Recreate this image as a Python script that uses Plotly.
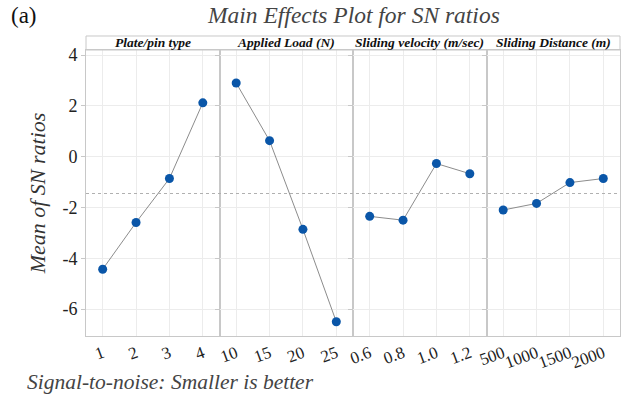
import plotly.graph_objects as go
from plotly.subplots import make_subplots

factors = ["Plate/pin type", "Applied Load (N)", "Sliding velocity (m/sec)", "Sliding Distance (m)"]
levels = [["1", "2", "3", "4"], ["10", "15", "20", "25"], ["0.6", "0.8", "1.0", "1.2"], ["500", "1000", "1500", "2000"]]
sn_means = [
    [-4.43, -2.59, -0.86, 2.12],
    [2.90, 0.63, -2.86, -6.50],
    [-2.35, -2.50, -0.27, -0.67],
    [-2.10, -1.84, -1.02, -0.86],
]
overall_mean = -1.45
y_ticks = [-6, -4, -2, 0, 2, 4]

SERIF = "Times New Roman, Liberation Serif, serif"
fig = make_subplots(rows=1, cols=4, shared_yaxes=True, horizontal_spacing=0)

for i in range(4):
    fig.add_trace(go.Scatter(
        x=list(range(4)), y=sn_means[i], mode="lines+markers",
        line=dict(color="#8c8c8c", width=1),
        marker=dict(color="#0a56a8", size=9),
        showlegend=False), row=1, col=i + 1)
    fig.update_xaxes(
        range=[-0.5, 3.5], tickvals=list(range(4)), ticktext=levels[i],
        tickangle=-20, tickfont=dict(family=SERIF, size=17, color="#222"),
        showgrid=True, gridcolor="#ececec", gridwidth=1,
        showline=True, linecolor="#c8c8c8", linewidth=1, mirror=True,
        ticks="", zeroline=False, row=1, col=i + 1)
    fig.add_annotation(
        text="<b><i>" + factors[i] + "</i></b>",
        xref="x%s domain" % ("" if i == 0 else i + 1), yref="paper",
        x=0.5, y=1.0, yanchor="bottom", yshift=-2,
        showarrow=False, font=dict(family=SERIF, size=13.5, color="#111"))

fig.update_yaxes(
    range=[-7.06, 4.2], tickvals=y_ticks, ticktext=[str(v) for v in y_ticks],
    tickfont=dict(family=SERIF, size=18, color="#222"),
    showgrid=True, gridcolor="#ececec", gridwidth=1,
    showline=True, linecolor="#c8c8c8", linewidth=1, mirror=True,
    zeroline=False, ticks="outside", ticklen=4, tickcolor="#c8c8c8")
fig.update_yaxes(
    title=dict(text="<i>Mean of SN ratios</i>", font=dict(family=SERIF, size=22, color="#333"), standoff=10),
    row=1, col=1)

fig.add_shape(type="line", xref="paper", yref="y", x0=0, x1=1, y0=overall_mean, y1=overall_mean,
              line=dict(color="#b0b0b0", width=1, dash="dot"))
fig.add_shape(type="rect", xref="paper", yref="paper", x0=0, x1=1, y0=1.0, y1=1.049,
              line=dict(color="#c8c8c8", width=1))

fig.add_annotation(text="<i>Main Effects Plot for SN ratios</i>", xref="paper", yref="paper",
                   x=0.5, y=1.0, yshift=20, yanchor="bottom", showarrow=False,
                   font=dict(family=SERIF, size=23.5, color="#444"))
fig.add_annotation(text="(a)", xref="paper", yref="paper", x=-0.145, y=1.0, yshift=20,
                   xanchor="left", yanchor="bottom", showarrow=False,
                   font=dict(family=SERIF, size=23, color="#111"))
fig.add_annotation(text="<i>Signal-to-noise: Smaller is better</i>", xref="paper", yref="paper",
                   x=-0.115, y=0, yshift=-32, xanchor="left", yanchor="top", showarrow=False,
                   font=dict(family=SERIF, size=21.5, color="#444"))

fig.update_layout(
    width=625, height=394,
    margin=dict(l=86, r=5, t=50, b=58),
    plot_bgcolor="white", paper_bgcolor="white",
)
fig.write_html("out.html")
